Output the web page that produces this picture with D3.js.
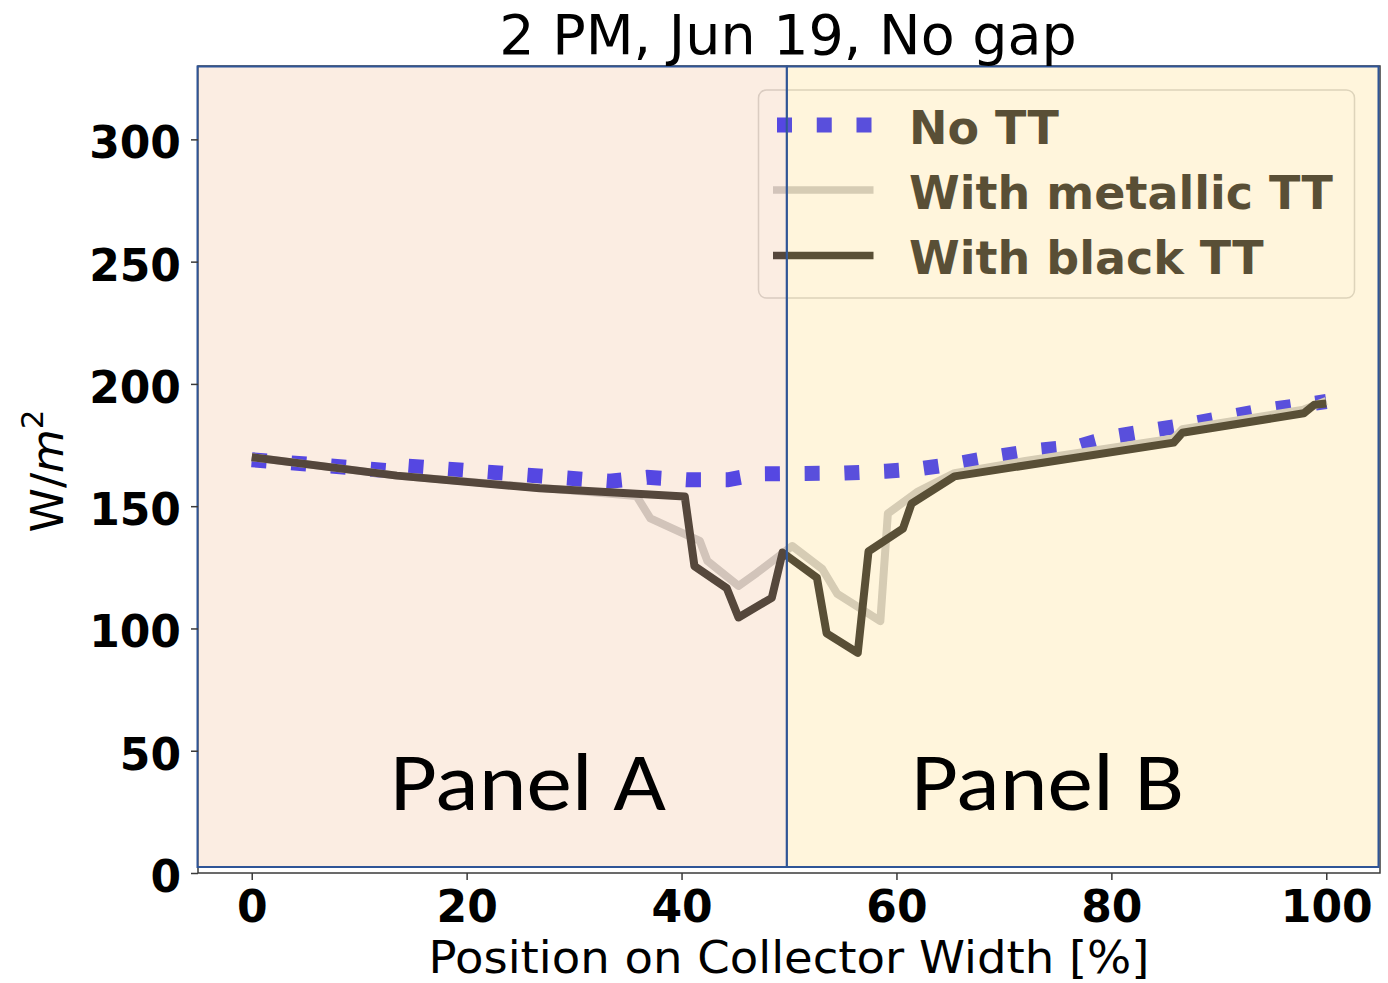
<!DOCTYPE html>
<html>
<head>
<meta charset="utf-8">
<script src="https://cdn.jsdelivr.net/npm/d3@7"></script>
<style>
  html, body { margin: 0; padding: 0; background: #ffffff; }
  svg { display: block; }
</style>
</head>
<body>
<svg id="chart" width="1388" height="983"></svg>
<script>
// ---------- data ----------
const title = "2 PM, Jun 19, No gap";
const xLabel = "Position on Collector Width [%]";
const seriesNames = ["No TT", "With metallic TT", "With black TT"];
const xTicks = [0, 20, 40, 60, 80, 100];
const yTicks = [0, 50, 100, 150, 200, 250, 300];
const panelNames = ["Panel A", "Panel B"];
const panelBounds = [[-5, 49.8], [49.8, 105]];

const xNoTT = [0, 12.8, 13.5, 33.3, 36.8, 40.5, 44.3, 47.3, 55, 59, 62, 66, 69.5, 73, 77, 78.5, 80.2, 87, 94, 100];
const yNoTT = [169, 164.5, 166.7, 160.2, 161.8, 160.8, 160.8, 163.2, 163.5, 164.3, 165.2, 167.7, 170.4, 172.8, 174.5, 176.5, 178.5, 183.3, 189, 192.8];

const xMetal = [0, 13.5, 26.8, 35.8, 37.1, 40.3, 41.7, 42.4, 45.3, 47, 49.3, 50.3, 53.1, 54.5, 58.5, 59.2, 62, 65.4, 72, 85.8, 86.6, 97.9, 100];
const yMetal = [170, 162.5, 157.5, 154.2, 145, 138.6, 135.8, 127.6, 117.4, 122.7, 130.4, 133.7, 124.3, 114.1, 103, 147, 156, 163.5, 168.5, 177.7, 181.5, 189.5, 193];

const xBlack = [0, 13.5, 26.8, 40.3, 41.2, 44.2, 45.3, 48.4, 49.4, 52.6, 53.5, 56.4, 57.4, 60.6, 61.4, 65.4, 85.8, 86.6, 97.9, 98.9, 100];
const yBlack = [170, 162.5, 157.3, 154, 125.5, 116.5, 104.5, 112.5, 131, 120.7, 98, 90, 131.5, 140.8, 151, 162.2, 176, 180, 188, 191.5, 192];

// ---------- layout ----------
const svg = d3.select("#chart");
const x = d3.scaleLinear().domain([-5, 105]).range([198, 1380]);
const y = d3.scaleLinear().domain([0, 330]).range([873, 66]);

const tickFont = "'DejaVu Sans', sans-serif";

// axes background
svg.append("rect").attr("x", x(-5)).attr("y", y(330))
  .attr("width", x(105) - x(-5)).attr("height", y(0) - y(330)).attr("fill", "#ffffff");

const line = d3.line().x(d => x(d[0])).y(d => y(d[1]));
const zip = (a, b) => a.map((v, i) => [v, b[i]]);

// No TT (blue dotted)
svg.append("path").datum(zip(xNoTT, yNoTT)).attr("d", line)
  .attr("fill", "none").attr("stroke", "#0000ff").attr("stroke-width", 15)
  .attr("stroke-dasharray", "15 24.75").attr("stroke-linecap", "butt");
// metallic
svg.append("path").datum(zip(xMetal, yMetal)).attr("d", line)
  .attr("fill", "none").attr("stroke", "#c0c0c2").attr("stroke-width", 8)
  .attr("stroke-linejoin", "round");
// black
svg.append("path").datum(zip(xBlack, yBlack)).attr("d", line)
  .attr("fill", "none").attr("stroke", "#000000").attr("stroke-width", 8)
  .attr("stroke-linejoin", "round");

// legend
const lg = svg.append("g");
lg.append("rect").attr("x", 758.5).attr("y", 90).attr("width", 596).attr("height", 208)
  .attr("rx", 8).attr("fill", "#ffffff").attr("fill-opacity", 0.8)
  .attr("stroke", "#cccccc").attr("stroke-width", 1.5);
const legendRows = [
  {name: seriesNames[0], stroke: "#0000ff", w: 15, dash: "15 24.75", x1: 777, cy: 125, ty: 143.5},
  {name: seriesNames[1], stroke: "#c0c0c2", w: 7.5, dash: null, x1: 773, cy: 190, ty: 209},
  {name: seriesNames[2], stroke: "#000000", w: 7.7, dash: null, x1: 773, cy: 255.5, ty: 273.5}
];
legendRows.forEach(r => {
  const l = lg.append("line").attr("x1", r.x1).attr("x2", 873.5).attr("y1", r.cy).attr("y2", r.cy)
    .attr("stroke", r.stroke).attr("stroke-width", r.w);
  if (r.dash) l.attr("stroke-dasharray", r.dash);
  lg.append("text").attr("x", 909).attr("y", r.ty).text(r.name)
    .attr("font-family", tickFont).attr("font-weight", "bold").attr("font-size", 46)
    .attr("fill", "#000000");
});

// spines
const spineColor = "#3a3a3a";
svg.append("rect").attr("x", x(-5)).attr("y", y(330))
  .attr("width", x(105) - x(-5)).attr("height", y(0) - y(330))
  .attr("fill", "none").attr("stroke", spineColor).attr("stroke-width", 1.5);

// panel overlays
const panelFill = ["#f4cbab", "#ffe29b"];
panelBounds.forEach((b, i) => {
  const x0 = i === 0 ? 197.5 : x(b[0]);
  const x1 = i === 0 ? x(b[1]) : 1378.5;
  svg.append("rect").attr("x", x0).attr("y", 66.5)
    .attr("width", x1 - x0).attr("height", 867 - 66.5)
    .attr("fill", panelFill[i]).attr("fill-opacity", 0.35)
    .attr("stroke", "#2f5597").attr("stroke-width", 2);
});

// panel labels
const panelTextX = [390, 911];
panelNames.forEach((p, i) => {
  svg.append("text").attr("x", panelTextX[i]).attr("y", 810).text(p)
    .attr("font-family", "Carlito, 'Liberation Sans Narrow', 'Noto Sans', sans-serif")
    .attr("font-size", 82).attr("fill", "#000000")
    .attr("textLength", i === 0 ? 276 : 273).attr("lengthAdjust", "spacingAndGlyphs");
});

// axes
const xAxis = svg.append("g").attr("transform", `translate(0,${y(0)})`)
  .call(d3.axisBottom(x).tickValues(xTicks).tickSize(7).tickPadding(11).tickFormat(d3.format("d")));
xAxis.select(".domain").remove();
xAxis.selectAll("line").attr("stroke", spineColor).attr("stroke-width", 1.5);
xAxis.selectAll("text").attr("font-family", tickFont).attr("font-weight", "bold")
  .attr("font-size", 44).attr("fill", "#000");

const yAxis = svg.append("g").attr("transform", `translate(${x(-5)},0)`)
  .call(d3.axisLeft(y).tickValues(yTicks).tickSize(7).tickPadding(10).tickFormat(d3.format("d")));
yAxis.select(".domain").remove();
yAxis.selectAll("line").attr("stroke", spineColor).attr("stroke-width", 1.5);
yAxis.selectAll("text").attr("font-family", tickFont).attr("font-weight", "bold")
  .attr("font-size", 44).attr("fill", "#000").attr("dy", "0.42em");

// title
svg.append("text").attr("x", 788).attr("y", 54).attr("text-anchor", "middle").text(title)
  .attr("font-family", tickFont).attr("font-size", 55.5).attr("fill", "#000");

// x label
svg.append("text").attr("x", 789).attr("y", 972.5).attr("text-anchor", "middle").text(xLabel)
  .attr("font-family", tickFont).attr("font-size", 45).attr("fill", "#000")
  .attr("textLength", 721).attr("lengthAdjust", "spacingAndGlyphs");

// y label  W/m^2
const yl = svg.append("text").attr("transform", "translate(63,471) rotate(-90)")
  .attr("text-anchor", "middle").attr("font-family", tickFont).attr("font-size", 45).attr("fill", "#000");
yl.append("tspan").text("W/");
yl.append("tspan").attr("font-style", "italic").text("m");
yl.append("tspan").attr("font-size", 31).attr("dy", -20).text("2");
</script>
</body>
</html>
